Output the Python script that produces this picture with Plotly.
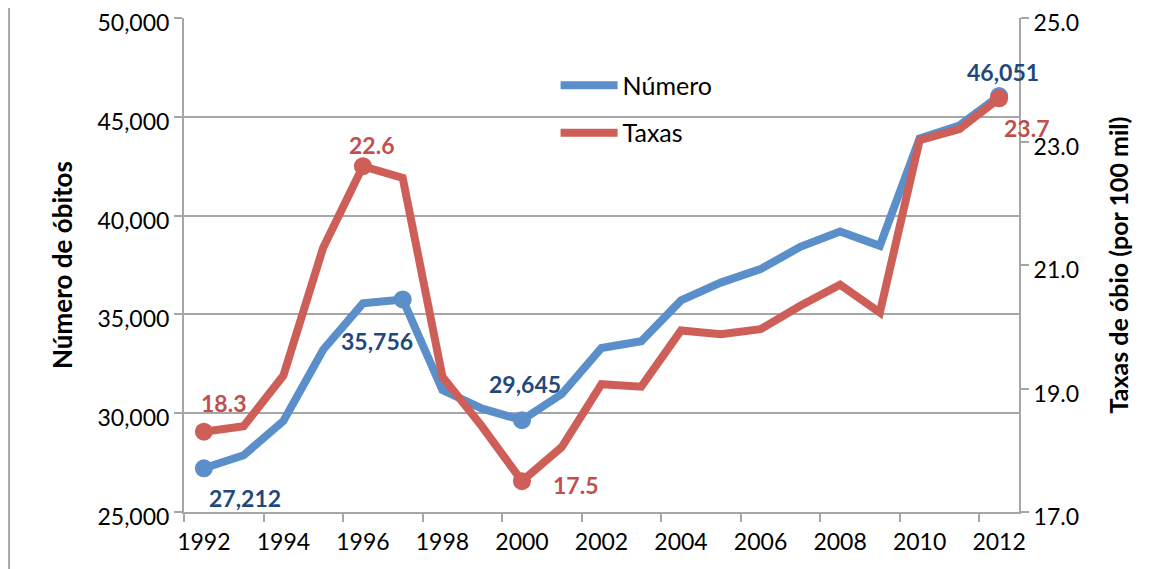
import plotly.graph_objects as go

years = list(range(1992, 2013))
numero = [27212, 27870, 29610, 33210, 35560, 35756, 31170, 30230, 29645, 30970,
          33300, 33640, 35710, 36610, 37290, 38420, 39200, 38470, 43910, 44560, 46051]
taxas = [18.3, 18.39, 19.21, 21.28, 22.6, 22.41, 19.19, 18.38, 17.5, 18.05,
         19.07, 19.03, 19.94, 19.88, 19.96, 20.34, 20.68, 20.23, 23.02, 23.2, 23.7]

numero_marked = [1992, 1997, 2000, 2012]
taxas_marked = [1992, 1996, 2000, 2012]

x_tick_labels = [str(y) for y in range(1992, 2013, 2)]
left_ticks = [25000, 30000, 35000, 40000, 45000, 50000]
right_ticks = [17, 19, 21, 23, 25]

BLUE = "#5B8FCA"
RED = "#CD5E58"
BLUE_LBL = "#1F497D"
RED_LBL = "#C0504D"
GRID = "#A6A6A6"
FONT = "Lato"

fig = go.Figure()
fig.add_trace(go.Scatter(x=years, y=numero, mode="lines", name="Número",
                         line=dict(color=BLUE, width=8), legendgroup="a"))
fig.add_trace(go.Scatter(x=years, y=taxas, mode="lines", name="Taxas", yaxis="y2",
                         line=dict(color=RED, width=8), legendgroup="b"))

nm_x = [y for y in years if y in numero_marked]
nm_y = [v for y, v in zip(years, numero) if y in numero_marked]
tm_x = [y for y in years if y in taxas_marked]
tm_y = [v for y, v in zip(years, taxas) if y in taxas_marked]

fig.add_trace(go.Scatter(x=nm_x, y=nm_y, mode="markers", showlegend=False,
                         marker=dict(color=BLUE, size=18)))
fig.add_trace(go.Scatter(x=tm_x, y=tm_y, mode="markers", showlegend=False, yaxis="y2",
                         marker=dict(color=RED, size=18)))

# data labels (anchored at data points, offset in pixels)
num_offsets = {1992: (41, -30), 1997: (-26, -42), 2000: (3, 36), 2012: (4, 24)}
tax_offsets = {1992: (20, 29), 1996: (9, 21), 2000: (54, -4), 2012: (27, -30)}
for x, y in zip(nm_x, nm_y):
    dx, dy = num_offsets[x]
    fig.add_annotation(x=x, y=y, xref="x", yref="y", text=f"{y:,}", showarrow=False,
                       xshift=dx, yshift=dy,
                       font=dict(family=FONT, size=23, color=BLUE_LBL, weight="bold"))
for x, y in zip(tm_x, tm_y):
    dx, dy = tax_offsets[x]
    fig.add_annotation(x=x, y=y, xref="x", yref="y2", text=f"{y:.1f}", showarrow=False,
                       xshift=dx, yshift=dy,
                       font=dict(family=FONT, size=23, color=RED_LBL, weight="bold"))

# left frame line of chart area
fig.add_shape(type="line", xref="paper", yref="paper", x0=-0.2095, x1=-0.2095, y0=-0.2, y1=1.1,
              line=dict(color="#A6A6A6", width=2))

fig.update_layout(
    width=1158, height=561,
    margin=dict(l=176, r=147, t=10, b=57, autoexpand=False),
    paper_bgcolor="white", plot_bgcolor="white",
    font=dict(family=FONT, size=23, color="black"),
    showlegend=True,
    legend=dict(x=0.445, y=0.91, xanchor="left", yanchor="top",
                font=dict(family=FONT, size=25), bgcolor="rgba(0,0,0,0)",
                tracegroupgap=12, itemwidth=57),
    xaxis=dict(range=[1991.5, 2012.5], tickvals=list(range(1992, 2013, 2)),
               ticktext=x_tick_labels, ticks="", showgrid=False, zeroline=False,
               showline=True, linecolor=GRID, linewidth=2, automargin=False,
               ticklabelstandoff=8,
               minor=dict(tick0=1991.5, dtick=2, ticks="outside", ticklen=8,
                          tickcolor=GRID, tickwidth=2, showgrid=False),
               tickfont=dict(size=23)),
    yaxis=dict(range=[25000, 50000], tickvals=left_ticks, tickformat=",",
               ticks="outside", ticklen=8, tickcolor=GRID, tickwidth=2,
               showgrid=True, gridcolor=GRID, gridwidth=2, zeroline=False,
               showline=True, linecolor=GRID, linewidth=2, automargin=False,
               ticklabeloverflow="allow", ticklabelshift=5,
               title=dict(text="<b>Número de óbitos</b>", font=dict(size=26), standoff=17),
               tickfont=dict(size=23)),
    yaxis2=dict(range=[17, 25], tickvals=right_ticks, tickformat=".1f",
                overlaying="y", side="right", ticks="outside", ticklen=8,
                tickcolor=GRID, tickwidth=2, showgrid=False, zeroline=False,
                showline=True, linecolor=GRID, linewidth=2, automargin=False,
                ticklabeloverflow="allow", ticklabelshift=5,
                title=dict(text="<b>Taxas de óbio (por 100 mil)</b>", font=dict(size=25), standoff=32),
                tickfont=dict(size=23)),
)

fig.write_html("out.html")
